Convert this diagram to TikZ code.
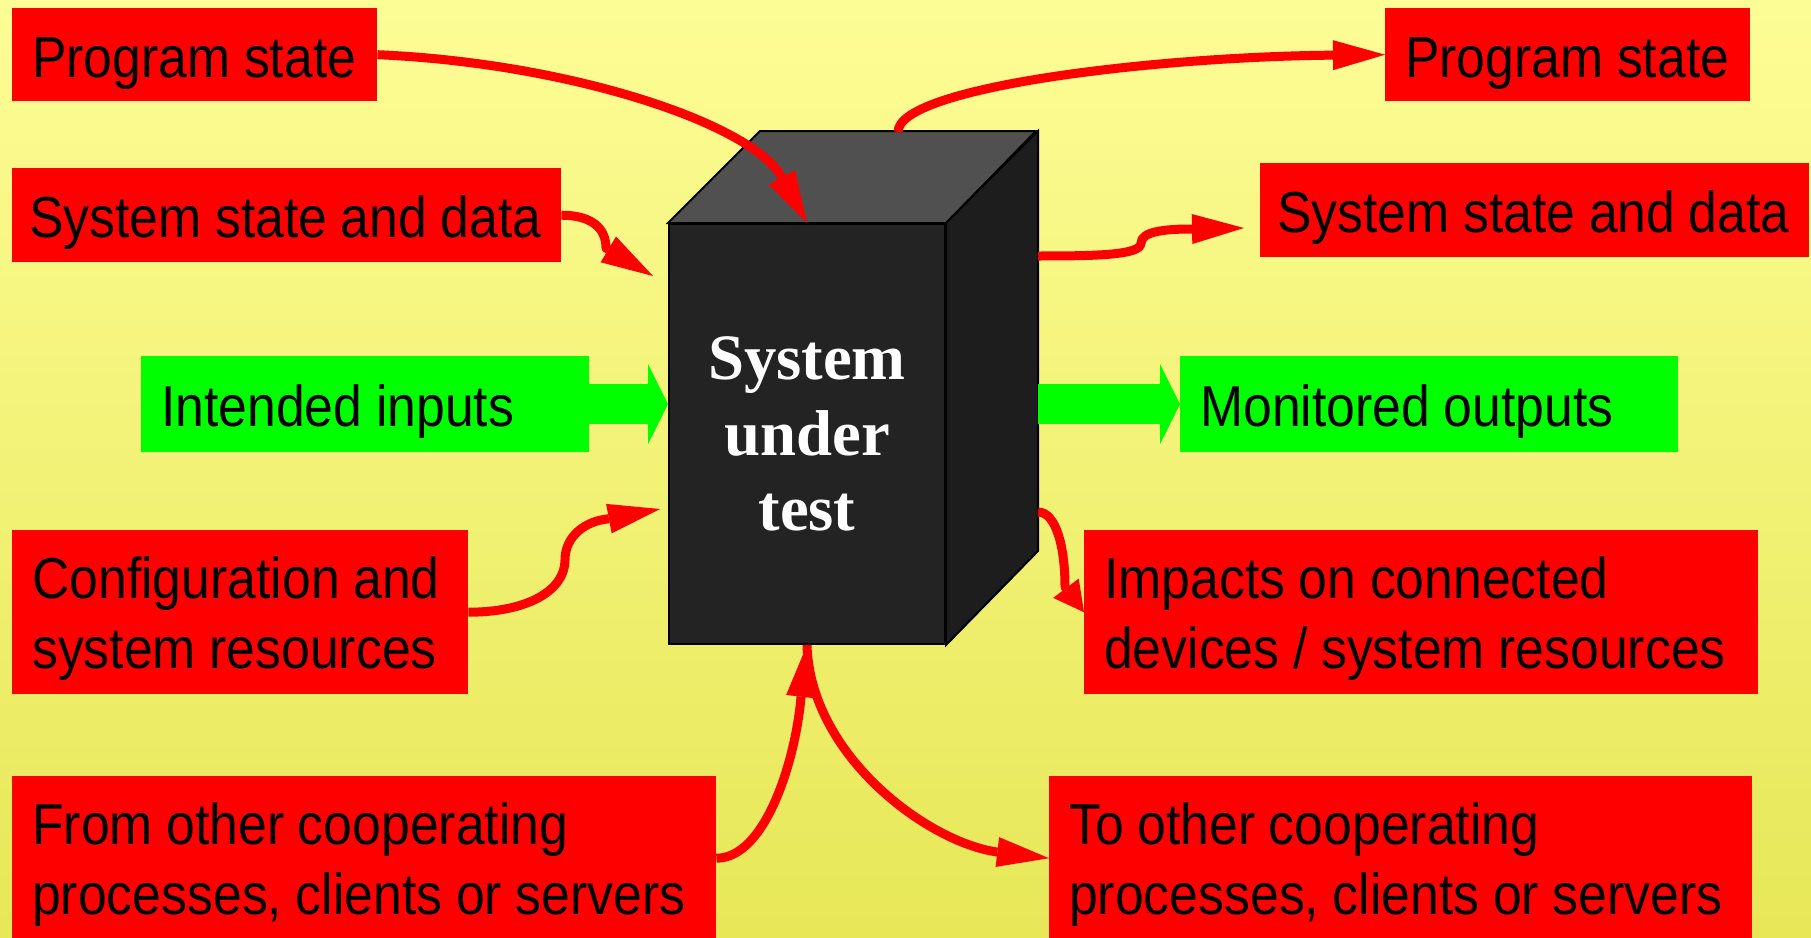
\documentclass[tikz,border=0pt]{standalone}
\usepackage{fontspec}
\setmainfont[FakeStretch=0.895, WordSpace=0.95]{Liberation Sans}
\newfontfamily\sutserif{Liberation Serif}
\usetikzlibrary{arrows.meta,calc}

\definecolor{bgtop}{RGB}{253,253,150}
\definecolor{bgbot}{RGB}{231,231,88}
\definecolor{frontgray}{RGB}{35,35,35}
\definecolor{topgray}{RGB}{80,80,80}
\definecolor{sidegray}{RGB}{29,29,29}

\newcommand\lblfont{\fontsize{58}{70}\selectfont}
\newcommand\sutfont{\sutserif\bfseries\fontsize{65}{76}\selectfont}

\begin{document}
\begin{tikzpicture}[x=1bp,y=-1bp,
  rbox/.style={rectangle, fill=red, anchor=north west, inner xsep=20bp, inner ysep=0pt,
    align=flush left, font=\lblfont, text=black, text height=45bp, text depth=0bp},
  gbox/.style={rbox, fill=green},
  twoline/.style={text depth=72bp},
  redarrow/.style={draw=red, line width=9bp, line join=round,
    -{Triangle[length=52bp,width=30bp,line width=0pt]}},
  smallhead/.style={-{Triangle[length=30bp,width=32bp,line width=0pt]}},
  greenarrow/.style={draw=green, line width=40bp,
    -{Triangle[length=20bp,width=80bp,line width=0pt]}},
  face/.style={draw=black, line width=2bp},
  cubefront/.style={rectangle, face, fill=frontgray, minimum width=276bp,
    minimum height=420bp, inner sep=0pt, align=center, font=\sutfont, text=white}
]
\useasboundingbox (0,0) rectangle (1811,937);
\shade[top color=bgtop, bottom color=bgbot] (0,0) rectangle (1811,937);

% the system under test, drawn as a box in perspective
\node[cubefront] (sut) at (807,434) {System\\under\\test};
\filldraw[face, fill=topgray] (sut.north west) -- ++(92,-92) -- ++(276,0) -- (sut.north east) -- cycle;
\filldraw[face, fill=sidegray] (sut.north east) -- ++(92,-92) -- ++(0,420) -- (sut.south east) -- cycle;
\coordinate (rf) at ($(sut.north east)+(92,0)$);

% inputs on the left
\node[rbox, text width=325bp, minimum height=93bp] (ps1) at (12,8) {Program state};
\node[rbox, inner xsep=17bp, text width=515bp, minimum height=94bp] (ssd1) at (12,168) {System state and data};
\node[gbox, text width=408bp, minimum height=96bp] (in) at (141,356) {Intended inputs};
\node[rbox, twoline, text width=416bp, minimum height=164bp] (cfg) at (12,530) {Configuration and\\system resources};
\node[rbox, twoline, text width=664bp, minimum height=164bp] (from) at (12,776) {From other cooperating\\processes, clients or servers};

% outputs on the right
\node[rbox, text width=325bp, minimum height=93bp] (ps2) at (1385,8) {Program state};
\node[rbox, inner xsep=17bp, text width=515bp, minimum height=94bp] (ssd2) at (1260,163) {System state and data};
\node[gbox, text width=458bp, minimum height=96bp] (mon) at (1180,356) {Monitored outputs};
\node[rbox, twoline, text width=634bp, minimum height=164bp] (imp) at (1084,530) {Impacts on connected\\devices / system resources};
\node[rbox, twoline, text width=663bp, minimum height=164bp] (to) at (1049,776) {To other cooperating\\processes, clients or servers};

% arrow end points that lie beside the box
\coordinate (t2) at (653,276);
\coordinate (t3) at (660,509);
\coordinate (o4) at ($(rf)+(0,33)$);
\coordinate (t4) at (1244,228);
\coordinate (o5) at (898,132);
\coordinate (o6) at ($(rf)+(0,289)$);

% main flow
\draw[greenarrow] (in.east) -- (sut.west |- in.east);
\draw[greenarrow] (rf |- mon.west) -- (mon.west);

% red connectors
\draw[redarrow] (ps1.east) .. controls +(190,8) and +(-55,-100) .. (sut.north);
\draw[redarrow] (ssd1.east) .. controls +(30,0) and +(0,-20) .. (606,248) -- (t2);
\draw[redarrow] (cfg.east) .. controls +(60,0) and +(0,30) .. (565,560)
  .. controls +(0,-25) and +(-20,2) .. (607,519) -- (t3);
\draw[redarrow] (from.east) .. controls +(50,0) and +(-5,60) .. (801,697) -- (sut.south);
\draw[redarrow] (o4) .. controls +(60,0) and +(0,12) .. (1141,243)
  .. controls +(0,-12) and +(-25,0) .. (1192,229) -- (t4);
\draw[redarrow] (o5) .. controls +(0,-45) and +(-230,2) .. (ps2.west);
\draw[redarrow, smallhead] (o6) .. controls +(18,0) and +(0,-40) .. (1065,587) -- (imp.west);
\draw[redarrow] (sut.south) .. controls +(3,110) and +(-70,-10) .. (997,852) -- (to.west);
\end{tikzpicture}
\end{document}
